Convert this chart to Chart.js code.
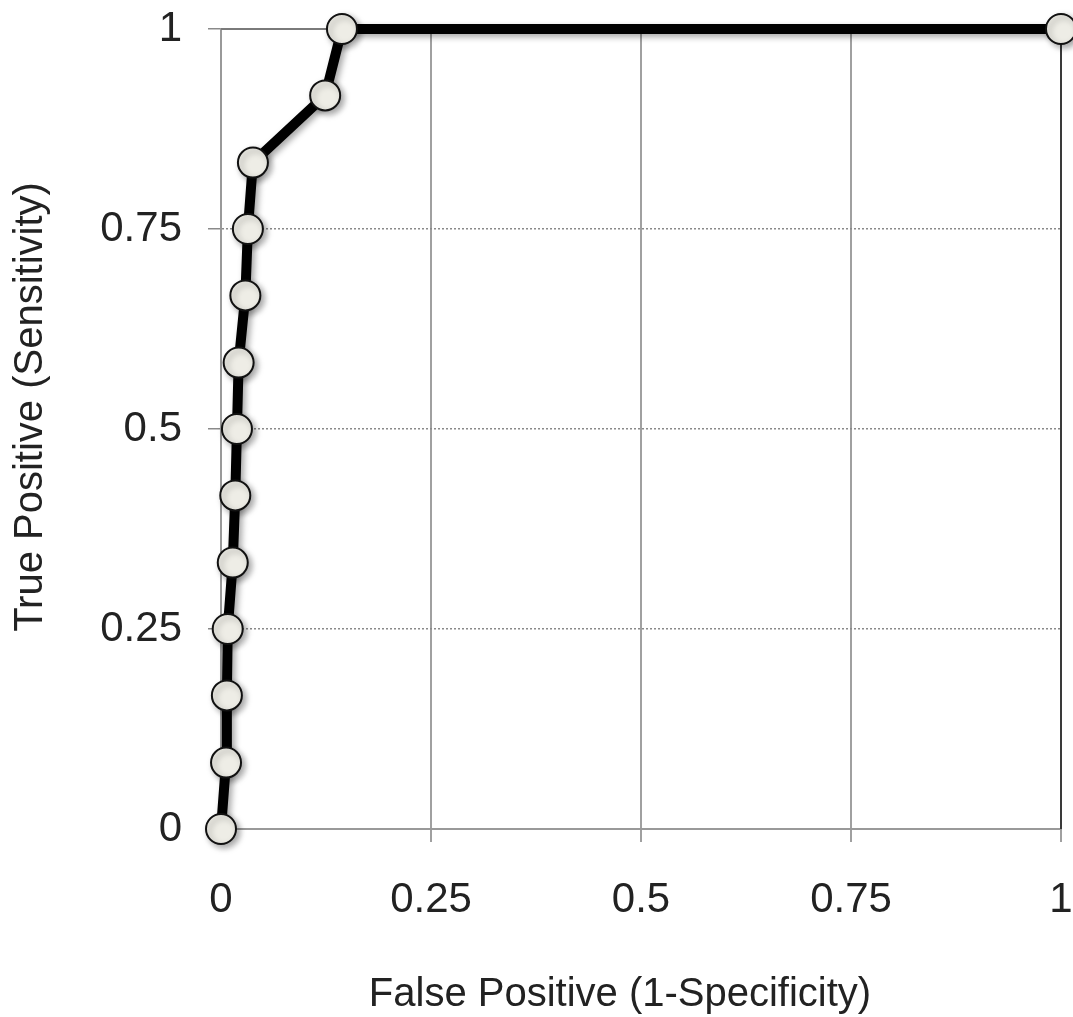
<!DOCTYPE html>
<html>
<head>
<meta charset="utf-8">
<script src="https://cdn.jsdelivr.net/npm/chart.js@4"></script>
<style>
    html, body { margin: 0; padding: 0; background: #fff; }
    #wrap { width: 1073px; height: 1017px; }
</style>
</head>
<body>
<div id="wrap"><canvas id="rocChart" width="1073" height="1017"></canvas></div>
<script>
// ROC curve points
const falsePositive = [0, 0.006, 0.007, 0.008, 0.014, 0.017, 0.019, 0.021, 0.029, 0.032, 0.038, 0.124, 0.144, 1];
const truePositive = [0, 0.083, 0.167, 0.25, 0.333, 0.417, 0.5, 0.583, 0.667, 0.75, 0.833, 0.917, 1, 1];
const tickValues = [0, 0.25, 0.5, 0.75, 1];
const tickLabels = ['0', '0.25', '0.5', '0.75', '1'];
const xTitle = 'False Positive (1-Specificity)';
const yTitle = 'True Positive (Sensitivity)';

const FONT = '"Liberation Sans", Arial, Helvetica, sans-serif';

function tickLabel(value) {
    const i = tickValues.findIndex(v => Math.abs(v - value) < 1e-9);
    return i >= 0 ? tickLabels[i] : '';
}

// plot frame drawn under the curve
const framePlugin = {
    id: 'frame',
    beforeDatasetsDraw(chart) {
        const { ctx, chartArea: a } = chart;
        ctx.save();
        ctx.lineWidth = 2;
        ctx.strokeStyle = '#7a7a7a';
        ctx.beginPath();
        ctx.moveTo(a.left, a.top);
        ctx.lineTo(a.right, a.top);
        ctx.stroke();
        ctx.strokeStyle = '#3a3a3a';
        ctx.beginPath();
        ctx.moveTo(a.right, a.top);
        ctx.lineTo(a.right, a.bottom);
        ctx.stroke();
        ctx.restore();
    }
};

// soft drop shadow under line and markers
const shadowPlugin = {
    id: 'shadow',
    beforeDatasetDraw(chart) {
        const ctx = chart.ctx;
        ctx.save();
        ctx.shadowColor = 'rgba(0,0,0,0.35)';
        ctx.shadowBlur = 6;
        ctx.shadowOffsetX = 3;
        ctx.shadowOffsetY = 3;
    },
    afterDatasetDraw(chart) {
        chart.ctx.restore();
    }
};

// axis titles, placed the way the original sits
const titlePlugin = {
    id: 'axisTitles',
    afterDraw(chart) {
        const { ctx, chartArea: a } = chart;
        ctx.save();
        ctx.fillStyle = '#222';
        ctx.font = '40px ' + FONT;
        ctx.textAlign = 'center';
        ctx.textBaseline = 'alphabetic';
        ctx.fillText(xTitle, (a.left + a.right) / 2 - 21, 1006);
        ctx.translate(42, (a.top + a.bottom) / 2 - 22);
        ctx.rotate(-Math.PI / 2);
        ctx.fillText(yTitle, 0, 0);
        ctx.restore();
    }
};

const ctx = document.getElementById('rocChart').getContext('2d');

new Chart(ctx, {
    type: 'line',
    data: {
        datasets: [{
            label: 'ROC',
            data: falsePositive.map((x, i) => ({ x: x, y: truePositive[i] })),
            borderColor: '#000',
            borderWidth: 10,
            tension: 0,
            fill: false,
            clip: false,
            pointRadius: 15,
            pointHoverRadius: 15,
            pointBackgroundColor: '#eeede6',
            pointBorderColor: '#111',
            pointBorderWidth: 2
        }]
    },
    options: {
        responsive: false,
        animation: false,
        layout: {
            autoPadding: false,
            padding: { left: 0, right: 12, top: 29, bottom: 0 }
        },
        plugins: {
            legend: { display: false },
            tooltip: { enabled: false }
        },
        scales: {
            x: {
                type: 'linear',
                min: 0,
                max: 1,
                afterFit(scale) {
                    scale.height = 188;
                    scale.paddingLeft = 0;
                    scale.paddingRight = 0;
                },
                afterBuildTicks(scale) { scale.ticks = tickValues.map(v => ({ value: v })); },
                ticks: {
                    callback: tickLabel,
                    color: '#222',
                    padding: 33,
                    maxRotation: 0,
                    font: { family: FONT, size: 42 }
                },
                grid: {
                    color: '#a0a0a0',
                    lineWidth: 2,
                    tickLength: 13,
                    tickColor: '#a0a0a0'
                },
                border: { color: '#999', width: 2 }
            },
            y: {
                type: 'linear',
                min: 0,
                max: 1,
                afterFit(scale) {
                    scale.width = 221;
                    scale.paddingTop = 0;
                    scale.paddingBottom = 0;
                },
                afterBuildTicks(scale) { scale.ticks = tickValues.map(v => ({ value: v })); },
                ticks: {
                    callback: tickLabel,
                    color: '#222',
                    padding: 26,
                    font: { family: FONT, size: 42 }
                },
                grid: {
                    color: ctx => (ctx.tick && (ctx.tick.value === 0 || ctx.tick.value === 1)) ? 'rgba(0,0,0,0)' : '#8a8a8a',
                    lineWidth: 1.5,
                    tickLength: 13,
                    tickColor: '#8a8a8a',
                    tickBorderDash: []
                },
                border: { color: '#999', width: 2, dash: [2, 2] }
            }
        }
    },
    plugins: [framePlugin, shadowPlugin, titlePlugin]
});
</script>
</body>
</html>
